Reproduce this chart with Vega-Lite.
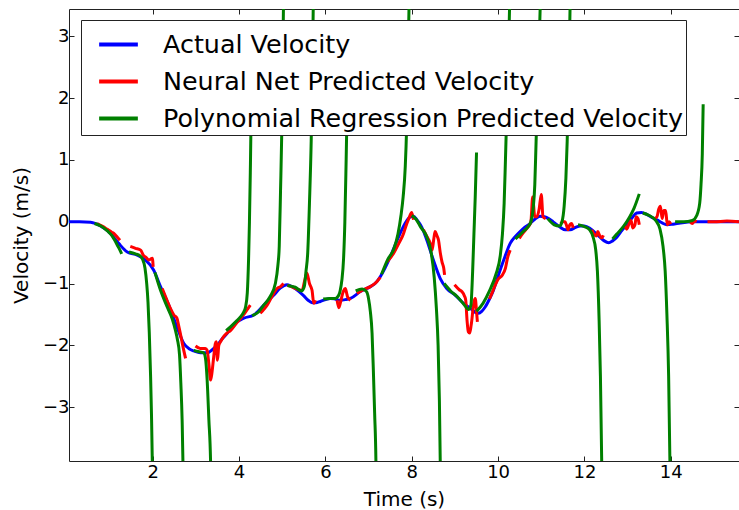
{
  "$schema": "https://vega.github.io/schema/vega-lite/v6.json",
  "width": 670,
  "height": 452,
  "autosize": {"type": "none"},
  "padding": {"left": 69, "top": 9, "right": 0, "bottom": 49},
  "background": "white",
  "config": {
    "view": {"stroke": "#222222", "strokeWidth": 1},
    "font": "DejaVu Sans",
    "axis": {
      "domain": false,
      "grid": false,
      "tickColor": "#222222",
      "tickSize": -5,
      "tickWidth": 1,
      "labelFont": "DejaVu Sans",
      "labelFontSize": 18,
      "labelColor": "black",
      "titleFont": "DejaVu Sans",
      "titleFontSize": 20,
      "titleFontWeight": "normal",
      "titleColor": "black"
    }
  },
  "datasets": {
    "pts": [
      {"s":"Actual Velocity","g":"A","t":0.06,"v":0},{"s":"Actual Velocity","g":"A","t":0.3,"v":0},{"s":"Actual Velocity","g":"A","t":0.56,"v":-0.01},{"s":"Actual Velocity","g":"A","t":0.79,"v":-0.07},{"s":"Actual Velocity","g":"A","t":1.02,"v":-0.19},{"s":"Actual Velocity","g":"A","t":1.21,"v":-0.35},{"s":"Actual Velocity","g":"A","t":1.41,"v":-0.49},{"s":"Actual Velocity","g":"A","t":1.64,"v":-0.54},{"s":"Actual Velocity","g":"A","t":1.83,"v":-0.62},{"s":"Actual Velocity","g":"A","t":2.02,"v":-0.78},{"s":"Actual Velocity","g":"A","t":2.18,"v":-1.05},{"s":"Actual Velocity","g":"A","t":2.37,"v":-1.35},{"s":"Actual Velocity","g":"A","t":2.56,"v":-1.7},{"s":"Actual Velocity","g":"A","t":2.72,"v":-1.97},{"s":"Actual Velocity","g":"A","t":2.85,"v":-2.06},{"s":"Actual Velocity","g":"A","t":2.95,"v":-2.09},{"s":"Actual Velocity","g":"A","t":3.1,"v":-2.12},{"s":"Actual Velocity","g":"A","t":3.26,"v":-2.12},{"s":"Actual Velocity","g":"A","t":3.38,"v":-2.07},{"s":"Actual Velocity","g":"A","t":3.49,"v":-2.0},{"s":"Actual Velocity","g":"A","t":3.6,"v":-1.9},{"s":"Actual Velocity","g":"A","t":3.72,"v":-1.81},{"s":"Actual Velocity","g":"A","t":3.88,"v":-1.66},{"s":"Actual Velocity","g":"A","t":4.03,"v":-1.59},{"s":"Actual Velocity","g":"A","t":4.11,"v":-1.56},{"s":"Actual Velocity","g":"A","t":4.34,"v":-1.51},{"s":"Actual Velocity","g":"A","t":4.45,"v":-1.44},{"s":"Actual Velocity","g":"A","t":4.57,"v":-1.35},{"s":"Actual Velocity","g":"A","t":4.8,"v":-1.19},{"s":"Actual Velocity","g":"A","t":4.96,"v":-1.07},{"s":"Actual Velocity","g":"A","t":5.11,"v":-1.02},{"s":"Actual Velocity","g":"A","t":5.2,"v":-1.04},{"s":"Actual Velocity","g":"A","t":5.3,"v":-1.08},{"s":"Actual Velocity","g":"A","t":5.5,"v":-1.2},{"s":"Actual Velocity","g":"A","t":5.6,"v":-1.27},{"s":"Actual Velocity","g":"A","t":5.69,"v":-1.31},{"s":"Actual Velocity","g":"A","t":5.78,"v":-1.31},{"s":"Actual Velocity","g":"A","t":5.88,"v":-1.29},{"s":"Actual Velocity","g":"A","t":6.11,"v":-1.24},{"s":"Actual Velocity","g":"A","t":6.22,"v":-1.25},{"s":"Actual Velocity","g":"A","t":6.34,"v":-1.27},{"s":"Actual Velocity","g":"A","t":6.46,"v":-1.26},{"s":"Actual Velocity","g":"A","t":6.58,"v":-1.24},{"s":"Actual Velocity","g":"A","t":6.81,"v":-1.13},{"s":"Actual Velocity","g":"A","t":7.04,"v":-1.05},{"s":"Actual Velocity","g":"A","t":7.15,"v":-1.0},{"s":"Actual Velocity","g":"A","t":7.27,"v":-0.89},{"s":"Actual Velocity","g":"A","t":7.38,"v":-0.75},{"s":"Actual Velocity","g":"A","t":7.5,"v":-0.57},{"s":"Actual Velocity","g":"A","t":7.62,"v":-0.37},{"s":"Actual Velocity","g":"A","t":7.73,"v":-0.19},{"s":"Actual Velocity","g":"A","t":7.85,"v":-0.02},{"s":"Actual Velocity","g":"A","t":7.97,"v":0.08},{"s":"Actual Velocity","g":"A","t":8.04,"v":0.09},{"s":"Actual Velocity","g":"A","t":8.12,"v":0.03},{"s":"Actual Velocity","g":"A","t":8.2,"v":-0.05},{"s":"Actual Velocity","g":"A","t":8.27,"v":-0.15},{"s":"Actual Velocity","g":"A","t":8.35,"v":-0.3},{"s":"Actual Velocity","g":"A","t":8.5,"v":-0.62},{"s":"Actual Velocity","g":"A","t":8.66,"v":-0.92},{"s":"Actual Velocity","g":"A","t":8.81,"v":-1.08},{"s":"Actual Velocity","g":"A","t":9.01,"v":-1.19},{"s":"Actual Velocity","g":"A","t":9.2,"v":-1.32},{"s":"Actual Velocity","g":"A","t":9.39,"v":-1.42},{"s":"Actual Velocity","g":"A","t":9.48,"v":-1.47},{"s":"Actual Velocity","g":"A","t":9.55,"v":-1.48},{"s":"Actual Velocity","g":"A","t":9.62,"v":-1.45},{"s":"Actual Velocity","g":"A","t":9.7,"v":-1.38},{"s":"Actual Velocity","g":"A","t":9.8,"v":-1.25},{"s":"Actual Velocity","g":"A","t":9.89,"v":-1.11},{"s":"Actual Velocity","g":"A","t":10.0,"v":-0.88},{"s":"Actual Velocity","g":"A","t":10.13,"v":-0.62},{"s":"Actual Velocity","g":"A","t":10.28,"v":-0.35},{"s":"Actual Velocity","g":"A","t":10.4,"v":-0.24},{"s":"Actual Velocity","g":"A","t":10.51,"v":-0.16},{"s":"Actual Velocity","g":"A","t":10.62,"v":-0.09},{"s":"Actual Velocity","g":"A","t":10.74,"v":-0.03},{"s":"Actual Velocity","g":"A","t":10.85,"v":0.04},{"s":"Actual Velocity","g":"A","t":10.97,"v":0.09},{"s":"Actual Velocity","g":"A","t":11.07,"v":0.08},{"s":"Actual Velocity","g":"A","t":11.17,"v":0.05},{"s":"Actual Velocity","g":"A","t":11.27,"v":0.0},{"s":"Actual Velocity","g":"A","t":11.36,"v":-0.05},{"s":"Actual Velocity","g":"A","t":11.46,"v":-0.1},{"s":"Actual Velocity","g":"A","t":11.55,"v":-0.13},{"s":"Actual Velocity","g":"A","t":11.67,"v":-0.13},{"s":"Actual Velocity","g":"A","t":11.8,"v":-0.09},{"s":"Actual Velocity","g":"A","t":11.9,"v":-0.07},{"s":"Actual Velocity","g":"A","t":12.0,"v":-0.07},{"s":"Actual Velocity","g":"A","t":12.13,"v":-0.11},{"s":"Actual Velocity","g":"A","t":12.25,"v":-0.18},{"s":"Actual Velocity","g":"A","t":12.36,"v":-0.25},{"s":"Actual Velocity","g":"A","t":12.46,"v":-0.31},{"s":"Actual Velocity","g":"A","t":12.56,"v":-0.34},{"s":"Actual Velocity","g":"A","t":12.65,"v":-0.31},{"s":"Actual Velocity","g":"A","t":12.75,"v":-0.25},{"s":"Actual Velocity","g":"A","t":12.87,"v":-0.14},{"s":"Actual Velocity","g":"A","t":12.98,"v":-0.05},{"s":"Actual Velocity","g":"A","t":13.1,"v":0.06},{"s":"Actual Velocity","g":"A","t":13.21,"v":0.14},{"s":"Actual Velocity","g":"A","t":13.32,"v":0.15},{"s":"Actual Velocity","g":"A","t":13.44,"v":0.12},{"s":"Actual Velocity","g":"A","t":13.56,"v":0.07},{"s":"Actual Velocity","g":"A","t":13.68,"v":0.03},{"s":"Actual Velocity","g":"A","t":13.8,"v":-0.02},{"s":"Actual Velocity","g":"A","t":13.91,"v":-0.05},{"s":"Actual Velocity","g":"A","t":14.05,"v":-0.04},{"s":"Actual Velocity","g":"A","t":14.22,"v":-0.02},{"s":"Actual Velocity","g":"A","t":14.52,"v":0.0},{"s":"Actual Velocity","g":"A","t":15.0,"v":0.0},{"s":"Actual Velocity","g":"A","t":15.58,"v":0.0},

      {"s":"Neural Net Predicted Velocity","g":"R1","t":0.71,"v":-0.03},{"s":"Neural Net Predicted Velocity","g":"R1","t":0.85,"v":-0.08},{"s":"Neural Net Predicted Velocity","g":"R1","t":0.94,"v":-0.12},{"s":"Neural Net Predicted Velocity","g":"R1","t":1.05,"v":-0.17},{"s":"Neural Net Predicted Velocity","g":"R1","t":1.1,"v":-0.19},{"s":"Neural Net Predicted Velocity","g":"R1","t":1.18,"v":-0.25},{"s":"Neural Net Predicted Velocity","g":"R1","t":1.24,"v":-0.3},
      {"s":"Neural Net Predicted Velocity","g":"R2","t":1.48,"v":-0.4},{"s":"Neural Net Predicted Velocity","g":"R2","t":1.6,"v":-0.43},{"s":"Neural Net Predicted Velocity","g":"R2","t":1.72,"v":-0.46},{"s":"Neural Net Predicted Velocity","g":"R2","t":1.78,"v":-0.54},{"s":"Neural Net Predicted Velocity","g":"R2","t":1.85,"v":-0.58},{"s":"Neural Net Predicted Velocity","g":"R2","t":1.91,"v":-0.62},{"s":"Neural Net Predicted Velocity","g":"R2","t":1.96,"v":-0.6},{"s":"Neural Net Predicted Velocity","g":"R2","t":1.99,"v":-0.59},{"s":"Neural Net Predicted Velocity","g":"R2","t":2.01,"v":-0.73},
      {"s":"Neural Net Predicted Velocity","g":"R3","t":2.22,"v":-1.08},{"s":"Neural Net Predicted Velocity","g":"R3","t":2.33,"v":-1.27},{"s":"Neural Net Predicted Velocity","g":"R3","t":2.42,"v":-1.42},{"s":"Neural Net Predicted Velocity","g":"R3","t":2.49,"v":-1.51},{"s":"Neural Net Predicted Velocity","g":"R3","t":2.56,"v":-1.56},{"s":"Neural Net Predicted Velocity","g":"R3","t":2.6,"v":-1.68},{"s":"Neural Net Predicted Velocity","g":"R3","t":2.64,"v":-1.81},{"s":"Neural Net Predicted Velocity","g":"R3","t":2.7,"v":-2.02},{"s":"Neural Net Predicted Velocity","g":"R3","t":2.76,"v":-2.21},
      {"s":"Neural Net Predicted Velocity","g":"R4","t":2.99,"v":-2.01},{"s":"Neural Net Predicted Velocity","g":"R4","t":3.1,"v":-2.05},{"s":"Neural Net Predicted Velocity","g":"R4","t":3.22,"v":-2.05},{"s":"Neural Net Predicted Velocity","g":"R4","t":3.26,"v":-2.08},{"s":"Neural Net Predicted Velocity","g":"R4","t":3.3,"v":-2.3},{"s":"Neural Net Predicted Velocity","g":"R4","t":3.34,"v":-2.56},{"s":"Neural Net Predicted Velocity","g":"R4","t":3.37,"v":-2.45},{"s":"Neural Net Predicted Velocity","g":"R4","t":3.41,"v":-2.2},{"s":"Neural Net Predicted Velocity","g":"R4","t":3.45,"v":-1.97},{"s":"Neural Net Predicted Velocity","g":"R4","t":3.47,"v":-1.94},{"s":"Neural Net Predicted Velocity","g":"R4","t":3.5,"v":-2.24},{"s":"Neural Net Predicted Velocity","g":"R4","t":3.53,"v":-2.0},{"s":"Neural Net Predicted Velocity","g":"R4","t":3.58,"v":-1.93},{"s":"Neural Net Predicted Velocity","g":"R4","t":3.65,"v":-1.85},{"s":"Neural Net Predicted Velocity","g":"R4","t":3.72,"v":-1.8},{"s":"Neural Net Predicted Velocity","g":"R4","t":3.8,"v":-1.76},{"s":"Neural Net Predicted Velocity","g":"R4","t":3.95,"v":-1.63},{"s":"Neural Net Predicted Velocity","g":"R4","t":4.11,"v":-1.5},{"s":"Neural Net Predicted Velocity","g":"R4","t":4.19,"v":-1.42},{"s":"Neural Net Predicted Velocity","g":"R4","t":4.26,"v":-1.35},
      {"s":"Neural Net Predicted Velocity","g":"R5","t":4.49,"v":-1.48},{"s":"Neural Net Predicted Velocity","g":"R5","t":4.57,"v":-1.42},{"s":"Neural Net Predicted Velocity","g":"R5","t":4.65,"v":-1.35},{"s":"Neural Net Predicted Velocity","g":"R5","t":4.76,"v":-1.21},{"s":"Neural Net Predicted Velocity","g":"R5","t":4.88,"v":-1.08},{"s":"Neural Net Predicted Velocity","g":"R5","t":4.96,"v":-1.05},{"s":"Neural Net Predicted Velocity","g":"R5","t":5.03,"v":-1.0},
      {"s":"Neural Net Predicted Velocity","g":"R6","t":5.12,"v":-1.03},{"s":"Neural Net Predicted Velocity","g":"R6","t":5.25,"v":-1.06},{"s":"Neural Net Predicted Velocity","g":"R6","t":5.38,"v":-1.1},{"s":"Neural Net Predicted Velocity","g":"R6","t":5.46,"v":-1.11},{"s":"Neural Net Predicted Velocity","g":"R6","t":5.52,"v":-0.95},{"s":"Neural Net Predicted Velocity","g":"R6","t":5.57,"v":-0.83},{"s":"Neural Net Predicted Velocity","g":"R6","t":5.63,"v":-1.0},{"s":"Neural Net Predicted Velocity","g":"R6","t":5.69,"v":-1.11},{"s":"Neural Net Predicted Velocity","g":"R6","t":5.73,"v":-1.32},{"s":"Neural Net Predicted Velocity","g":"R6","t":5.77,"v":-1.27},
      {"s":"Neural Net Predicted Velocity","g":"R7","t":6.27,"v":-1.27},{"s":"Neural Net Predicted Velocity","g":"R7","t":6.31,"v":-1.39},{"s":"Neural Net Predicted Velocity","g":"R7","t":6.35,"v":-1.3},{"s":"Neural Net Predicted Velocity","g":"R7","t":6.38,"v":-1.21},{"s":"Neural Net Predicted Velocity","g":"R7","t":6.42,"v":-1.12},{"s":"Neural Net Predicted Velocity","g":"R7","t":6.46,"v":-1.08},{"s":"Neural Net Predicted Velocity","g":"R7","t":6.49,"v":-1.15},{"s":"Neural Net Predicted Velocity","g":"R7","t":6.51,"v":-1.21},{"s":"Neural Net Predicted Velocity","g":"R7","t":6.55,"v":-1.25},{"s":"Neural Net Predicted Velocity","g":"R7","t":6.58,"v":-1.27},
      {"s":"Neural Net Predicted Velocity","g":"R8","t":6.73,"v":-1.16},{"s":"Neural Net Predicted Velocity","g":"R8","t":6.88,"v":-1.1},{"s":"Neural Net Predicted Velocity","g":"R8","t":7.04,"v":-1.05},{"s":"Neural Net Predicted Velocity","g":"R8","t":7.19,"v":-0.97},{"s":"Neural Net Predicted Velocity","g":"R8","t":7.27,"v":-0.9},
      {"s":"Neural Net Predicted Velocity","g":"R9","t":7.43,"v":-0.65},{"s":"Neural Net Predicted Velocity","g":"R9","t":7.58,"v":-0.51},{"s":"Neural Net Predicted Velocity","g":"R9","t":7.7,"v":-0.35},{"s":"Neural Net Predicted Velocity","g":"R9","t":7.81,"v":-0.19},{"s":"Neural Net Predicted Velocity","g":"R9","t":7.86,"v":-0.08},{"s":"Neural Net Predicted Velocity","g":"R9","t":7.93,"v":0.05},{"s":"Neural Net Predicted Velocity","g":"R9","t":8.0,"v":0.15},{"s":"Neural Net Predicted Velocity","g":"R9","t":8.04,"v":0.03},
      {"s":"Neural Net Predicted Velocity","g":"R10","t":8.27,"v":-0.13},{"s":"Neural Net Predicted Velocity","g":"R10","t":8.35,"v":-0.24},{"s":"Neural Net Predicted Velocity","g":"R10","t":8.43,"v":-0.35},{"s":"Neural Net Predicted Velocity","g":"R10","t":8.47,"v":-0.46},{"s":"Neural Net Predicted Velocity","g":"R10","t":8.51,"v":-0.28},{"s":"Neural Net Predicted Velocity","g":"R10","t":8.54,"v":-0.16},{"s":"Neural Net Predicted Velocity","g":"R10","t":8.58,"v":-0.22},{"s":"Neural Net Predicted Velocity","g":"R10","t":8.62,"v":-0.3},{"s":"Neural Net Predicted Velocity","g":"R10","t":8.66,"v":-0.5},{"s":"Neural Net Predicted Velocity","g":"R10","t":8.7,"v":-0.65},{"s":"Neural Net Predicted Velocity","g":"R10","t":8.74,"v":-0.75},{"s":"Neural Net Predicted Velocity","g":"R10","t":8.76,"v":-0.86},
      {"s":"Neural Net Predicted Velocity","g":"R11","t":8.99,"v":-1.02},{"s":"Neural Net Predicted Velocity","g":"R11","t":9.1,"v":-1.1},{"s":"Neural Net Predicted Velocity","g":"R11","t":9.16,"v":-1.13},{"s":"Neural Net Predicted Velocity","g":"R11","t":9.22,"v":-1.2},{"s":"Neural Net Predicted Velocity","g":"R11","t":9.25,"v":-1.27},{"s":"Neural Net Predicted Velocity","g":"R11","t":9.28,"v":-1.59},{"s":"Neural Net Predicted Velocity","g":"R11","t":9.31,"v":-1.78},{"s":"Neural Net Predicted Velocity","g":"R11","t":9.34,"v":-1.8},{"s":"Neural Net Predicted Velocity","g":"R11","t":9.37,"v":-1.7},{"s":"Neural Net Predicted Velocity","g":"R11","t":9.39,"v":-1.6},{"s":"Neural Net Predicted Velocity","g":"R11","t":9.42,"v":-1.4},{"s":"Neural Net Predicted Velocity","g":"R11","t":9.44,"v":-1.3},{"s":"Neural Net Predicted Velocity","g":"R11","t":9.47,"v":-1.24},{"s":"Neural Net Predicted Velocity","g":"R11","t":9.5,"v":-1.45},{"s":"Neural Net Predicted Velocity","g":"R11","t":9.52,"v":-1.62},
      {"s":"Neural Net Predicted Velocity","g":"R12","t":9.8,"v":-1.25},{"s":"Neural Net Predicted Velocity","g":"R12","t":9.86,"v":-1.15},{"s":"Neural Net Predicted Velocity","g":"R12","t":9.93,"v":-1.03},{"s":"Neural Net Predicted Velocity","g":"R12","t":10.0,"v":-0.93},{"s":"Neural Net Predicted Velocity","g":"R12","t":10.1,"v":-0.86},{"s":"Neural Net Predicted Velocity","g":"R12","t":10.17,"v":-0.75},{"s":"Neural Net Predicted Velocity","g":"R12","t":10.22,"v":-0.58},{"s":"Neural Net Predicted Velocity","g":"R12","t":10.28,"v":-0.46},
      {"s":"Neural Net Predicted Velocity","g":"R13","t":10.49,"v":-0.27},{"s":"Neural Net Predicted Velocity","g":"R13","t":10.58,"v":-0.18},{"s":"Neural Net Predicted Velocity","g":"R13","t":10.64,"v":-0.13},{"s":"Neural Net Predicted Velocity","g":"R13","t":10.7,"v":-0.08},{"s":"Neural Net Predicted Velocity","g":"R13","t":10.76,"v":0.0},{"s":"Neural Net Predicted Velocity","g":"R13","t":10.8,"v":0.4},{"s":"Neural Net Predicted Velocity","g":"R13","t":10.85,"v":0.08},{"s":"Neural Net Predicted Velocity","g":"R13","t":10.9,"v":0.08},{"s":"Neural Net Predicted Velocity","g":"R13","t":10.95,"v":0.2},{"s":"Neural Net Predicted Velocity","g":"R13","t":11.0,"v":0.44},{"s":"Neural Net Predicted Velocity","g":"R13","t":11.04,"v":0.08},{"s":"Neural Net Predicted Velocity","g":"R13","t":11.1,"v":0.05},
      {"s":"Neural Net Predicted Velocity","g":"R14","t":11.45,"v":-0.03},{"s":"Neural Net Predicted Velocity","g":"R14","t":11.5,"v":0.0},{"s":"Neural Net Predicted Velocity","g":"R14","t":11.55,"v":0.0},{"s":"Neural Net Predicted Velocity","g":"R14","t":11.58,"v":-0.05},{"s":"Neural Net Predicted Velocity","g":"R14","t":11.62,"v":-0.13},{"s":"Neural Net Predicted Velocity","g":"R14","t":11.66,"v":-0.05},{"s":"Neural Net Predicted Velocity","g":"R14","t":11.7,"v":-0.03},{"s":"Neural Net Predicted Velocity","g":"R14","t":11.74,"v":-0.1},
      {"s":"Neural Net Predicted Velocity","g":"R15","t":12.17,"v":-0.13},{"s":"Neural Net Predicted Velocity","g":"R15","t":12.22,"v":-0.2},{"s":"Neural Net Predicted Velocity","g":"R15","t":12.27,"v":-0.23},{"s":"Neural Net Predicted Velocity","g":"R15","t":12.31,"v":-0.16},{"s":"Neural Net Predicted Velocity","g":"R15","t":12.35,"v":-0.22},{"s":"Neural Net Predicted Velocity","g":"R15","t":12.4,"v":-0.26},{"s":"Neural Net Predicted Velocity","g":"R15","t":12.44,"v":-0.22},
      {"s":"Neural Net Predicted Velocity","g":"R16","t":12.93,"v":-0.05},{"s":"Neural Net Predicted Velocity","g":"R16","t":12.98,"v":-0.12},{"s":"Neural Net Predicted Velocity","g":"R16","t":13.03,"v":-0.04},{"s":"Neural Net Predicted Velocity","g":"R16","t":13.08,"v":0.02},{"s":"Neural Net Predicted Velocity","g":"R16","t":13.12,"v":-0.1},{"s":"Neural Net Predicted Velocity","g":"R16","t":13.17,"v":-0.05},{"s":"Neural Net Predicted Velocity","g":"R16","t":13.2,"v":0.08},{"s":"Neural Net Predicted Velocity","g":"R16","t":13.24,"v":0.05},{"s":"Neural Net Predicted Velocity","g":"R16","t":13.27,"v":-0.05},
      {"s":"Neural Net Predicted Velocity","g":"R17","t":13.62,"v":0.05},{"s":"Neural Net Predicted Velocity","g":"R17","t":13.68,"v":0.08},{"s":"Neural Net Predicted Velocity","g":"R17","t":13.72,"v":0.2},{"s":"Neural Net Predicted Velocity","g":"R17","t":13.76,"v":0.25},{"s":"Neural Net Predicted Velocity","g":"R17","t":13.8,"v":0.05},{"s":"Neural Net Predicted Velocity","g":"R17","t":13.84,"v":0.18},{"s":"Neural Net Predicted Velocity","g":"R17","t":13.88,"v":0.18},{"s":"Neural Net Predicted Velocity","g":"R17","t":13.92,"v":-0.05},{"s":"Neural Net Predicted Velocity","g":"R17","t":13.96,"v":0.0},{"s":"Neural Net Predicted Velocity","g":"R17","t":14.0,"v":-0.04},
      {"s":"Neural Net Predicted Velocity","g":"R18","t":14.45,"v":0.0},{"s":"Neural Net Predicted Velocity","g":"R18","t":14.5,"v":-0.03},{"s":"Neural Net Predicted Velocity","g":"R18","t":14.55,"v":0.01},{"s":"Neural Net Predicted Velocity","g":"R18","t":14.6,"v":0.0},
      {"s":"Neural Net Predicted Velocity","g":"R19","t":14.85,"v":0.0},{"s":"Neural Net Predicted Velocity","g":"R19","t":15.0,"v":0.0},{"s":"Neural Net Predicted Velocity","g":"R19","t":15.3,"v":0.01},{"s":"Neural Net Predicted Velocity","g":"R19","t":15.58,"v":0.0},

      {"s":"Polynomial Regression Predicted Velocity","g":"G1","t":0.65,"v":-0.03},{"s":"Polynomial Regression Predicted Velocity","g":"G1","t":0.8,"v":-0.07},{"s":"Polynomial Regression Predicted Velocity","g":"G1","t":0.95,"v":-0.15},{"s":"Polynomial Regression Predicted Velocity","g":"G1","t":1.05,"v":-0.22},{"s":"Polynomial Regression Predicted Velocity","g":"G1","t":1.12,"v":-0.3},{"s":"Polynomial Regression Predicted Velocity","g":"G1","t":1.18,"v":-0.38},{"s":"Polynomial Regression Predicted Velocity","g":"G1","t":1.24,"v":-0.46},{"s":"Polynomial Regression Predicted Velocity","g":"G1","t":1.28,"v":-0.52},
      {"s":"Polynomial Regression Predicted Velocity","g":"G2","t":1.45,"v":-0.49},{"s":"Polynomial Regression Predicted Velocity","g":"G2","t":1.6,"v":-0.52},{"s":"Polynomial Regression Predicted Velocity","g":"G2","t":1.7,"v":-0.55},{"s":"Polynomial Regression Predicted Velocity","g":"G2","t":1.76,"v":-0.6},{"s":"Polynomial Regression Predicted Velocity","g":"G2","t":1.82,"v":-0.75},{"s":"Polynomial Regression Predicted Velocity","g":"G2","t":1.86,"v":-1.0},{"s":"Polynomial Regression Predicted Velocity","g":"G2","t":1.89,"v":-1.3},{"s":"Polynomial Regression Predicted Velocity","g":"G2","t":1.92,"v":-1.8},{"s":"Polynomial Regression Predicted Velocity","g":"G2","t":1.95,"v":-2.5},{"s":"Polynomial Regression Predicted Velocity","g":"G2","t":1.97,"v":-3.1},{"s":"Polynomial Regression Predicted Velocity","g":"G2","t":1.99,"v":-3.9},{"s":"Polynomial Regression Predicted Velocity","g":"G2","t":2.0,"v":-4.5},
      {"s":"Polynomial Regression Predicted Velocity","g":"G3","t":2.05,"v":-0.82},{"s":"Polynomial Regression Predicted Velocity","g":"G3","t":2.18,"v":-1.11},{"s":"Polynomial Regression Predicted Velocity","g":"G3","t":2.33,"v":-1.37},{"s":"Polynomial Regression Predicted Velocity","g":"G3","t":2.45,"v":-1.57},{"s":"Polynomial Regression Predicted Velocity","g":"G3","t":2.52,"v":-1.74},{"s":"Polynomial Regression Predicted Velocity","g":"G3","t":2.57,"v":-1.9},{"s":"Polynomial Regression Predicted Velocity","g":"G3","t":2.62,"v":-2.15},{"s":"Polynomial Regression Predicted Velocity","g":"G3","t":2.65,"v":-2.6},{"s":"Polynomial Regression Predicted Velocity","g":"G3","t":2.68,"v":-3.2},{"s":"Polynomial Regression Predicted Velocity","g":"G3","t":2.7,"v":-3.9},{"s":"Polynomial Regression Predicted Velocity","g":"G3","t":2.71,"v":-4.5},
      {"s":"Polynomial Regression Predicted Velocity","g":"G4","t":2.95,"v":-2.08},{"s":"Polynomial Regression Predicted Velocity","g":"G4","t":3.05,"v":-2.1},{"s":"Polynomial Regression Predicted Velocity","g":"G4","t":3.18,"v":-2.12},{"s":"Polynomial Regression Predicted Velocity","g":"G4","t":3.22,"v":-2.2},{"s":"Polynomial Regression Predicted Velocity","g":"G4","t":3.26,"v":-2.56},{"s":"Polynomial Regression Predicted Velocity","g":"G4","t":3.3,"v":-3.2},{"s":"Polynomial Regression Predicted Velocity","g":"G4","t":3.34,"v":-3.9},{"s":"Polynomial Regression Predicted Velocity","g":"G4","t":3.35,"v":-4.5},
      {"s":"Polynomial Regression Predicted Velocity","g":"G5","t":3.7,"v":-1.76},{"s":"Polynomial Regression Predicted Velocity","g":"G5","t":3.8,"v":-1.7},{"s":"Polynomial Regression Predicted Velocity","g":"G5","t":3.95,"v":-1.6},{"s":"Polynomial Regression Predicted Velocity","g":"G5","t":4.03,"v":-1.54},{"s":"Polynomial Regression Predicted Velocity","g":"G5","t":4.1,"v":-1.47},{"s":"Polynomial Regression Predicted Velocity","g":"G5","t":4.15,"v":-1.38},{"s":"Polynomial Regression Predicted Velocity","g":"G5","t":4.19,"v":-1.15},{"s":"Polynomial Regression Predicted Velocity","g":"G5","t":4.22,"v":-0.6},{"s":"Polynomial Regression Predicted Velocity","g":"G5","t":4.24,"v":0.0},{"s":"Polynomial Regression Predicted Velocity","g":"G5","t":4.26,"v":0.8},{"s":"Polynomial Regression Predicted Velocity","g":"G5","t":4.28,"v":1.8},{"s":"Polynomial Regression Predicted Velocity","g":"G5","t":4.29,"v":2.5},
      {"s":"Polynomial Regression Predicted Velocity","g":"G6","t":4.3,"v":-1.52},{"s":"Polynomial Regression Predicted Velocity","g":"G6","t":4.45,"v":-1.46},{"s":"Polynomial Regression Predicted Velocity","g":"G6","t":4.57,"v":-1.35},{"s":"Polynomial Regression Predicted Velocity","g":"G6","t":4.72,"v":-1.21},{"s":"Polynomial Regression Predicted Velocity","g":"G6","t":4.84,"v":-1.0},{"s":"Polynomial Regression Predicted Velocity","g":"G6","t":4.9,"v":-0.7},{"s":"Polynomial Regression Predicted Velocity","g":"G6","t":4.93,"v":-0.4},{"s":"Polynomial Regression Predicted Velocity","g":"G6","t":4.96,"v":0.5},{"s":"Polynomial Regression Predicted Velocity","g":"G6","t":4.99,"v":1.5},{"s":"Polynomial Regression Predicted Velocity","g":"G6","t":5.01,"v":2.5},{"s":"Polynomial Regression Predicted Velocity","g":"G6","t":5.03,"v":3.6},
      {"s":"Polynomial Regression Predicted Velocity","g":"G7","t":5.12,"v":-1.03},{"s":"Polynomial Regression Predicted Velocity","g":"G7","t":5.3,"v":-1.06},{"s":"Polynomial Regression Predicted Velocity","g":"G7","t":5.45,"v":-1.12},{"s":"Polynomial Regression Predicted Velocity","g":"G7","t":5.51,"v":-1.05},{"s":"Polynomial Regression Predicted Velocity","g":"G7","t":5.55,"v":-0.8},{"s":"Polynomial Regression Predicted Velocity","g":"G7","t":5.59,"v":-0.5},{"s":"Polynomial Regression Predicted Velocity","g":"G7","t":5.63,"v":0.3},{"s":"Polynomial Regression Predicted Velocity","g":"G7","t":5.67,"v":1.3},{"s":"Polynomial Regression Predicted Velocity","g":"G7","t":5.7,"v":2.5},{"s":"Polynomial Regression Predicted Velocity","g":"G7","t":5.72,"v":3.6},
      {"s":"Polynomial Regression Predicted Velocity","g":"G8","t":5.95,"v":-1.25},{"s":"Polynomial Regression Predicted Velocity","g":"G8","t":6.1,"v":-1.24},{"s":"Polynomial Regression Predicted Velocity","g":"G8","t":6.23,"v":-1.24},{"s":"Polynomial Regression Predicted Velocity","g":"G8","t":6.3,"v":-1.2},{"s":"Polynomial Regression Predicted Velocity","g":"G8","t":6.34,"v":-1.12},{"s":"Polynomial Regression Predicted Velocity","g":"G8","t":6.38,"v":-0.95},{"s":"Polynomial Regression Predicted Velocity","g":"G8","t":6.42,"v":-0.6},{"s":"Polynomial Regression Predicted Velocity","g":"G8","t":6.45,"v":0.0},{"s":"Polynomial Regression Predicted Velocity","g":"G8","t":6.48,"v":1.0},{"s":"Polynomial Regression Predicted Velocity","g":"G8","t":6.52,"v":2.5},
      {"s":"Polynomial Regression Predicted Velocity","g":"G9","t":6.7,"v":-1.12},{"s":"Polynomial Regression Predicted Velocity","g":"G9","t":6.85,"v":-1.09},{"s":"Polynomial Regression Predicted Velocity","g":"G9","t":6.95,"v":-1.13},{"s":"Polynomial Regression Predicted Velocity","g":"G9","t":7.0,"v":-1.25},{"s":"Polynomial Regression Predicted Velocity","g":"G9","t":7.04,"v":-1.45},{"s":"Polynomial Regression Predicted Velocity","g":"G9","t":7.08,"v":-1.8},{"s":"Polynomial Regression Predicted Velocity","g":"G9","t":7.11,"v":-2.4},{"s":"Polynomial Regression Predicted Velocity","g":"G9","t":7.14,"v":-3.1},{"s":"Polynomial Regression Predicted Velocity","g":"G9","t":7.17,"v":-3.9},{"s":"Polynomial Regression Predicted Velocity","g":"G9","t":7.18,"v":-4.5},
      {"s":"Polynomial Regression Predicted Velocity","g":"G10","t":7.3,"v":-0.85},{"s":"Polynomial Regression Predicted Velocity","g":"G10","t":7.45,"v":-0.6},{"s":"Polynomial Regression Predicted Velocity","g":"G10","t":7.58,"v":-0.45},{"s":"Polynomial Regression Predicted Velocity","g":"G10","t":7.68,"v":-0.2},{"s":"Polynomial Regression Predicted Velocity","g":"G10","t":7.75,"v":0.1},{"s":"Polynomial Regression Predicted Velocity","g":"G10","t":7.8,"v":0.4},{"s":"Polynomial Regression Predicted Velocity","g":"G10","t":7.85,"v":0.9},{"s":"Polynomial Regression Predicted Velocity","g":"G10","t":7.88,"v":1.5},{"s":"Polynomial Regression Predicted Velocity","g":"G10","t":7.91,"v":2.5},{"s":"Polynomial Regression Predicted Velocity","g":"G10","t":7.94,"v":3.6},
      {"s":"Polynomial Regression Predicted Velocity","g":"G11","t":8.0,"v":0.1},{"s":"Polynomial Regression Predicted Velocity","g":"G11","t":8.1,"v":0.04},{"s":"Polynomial Regression Predicted Velocity","g":"G11","t":8.2,"v":-0.08},{"s":"Polynomial Regression Predicted Velocity","g":"G11","t":8.35,"v":-0.25},{"s":"Polynomial Regression Predicted Velocity","g":"G11","t":8.45,"v":-0.5},{"s":"Polynomial Regression Predicted Velocity","g":"G11","t":8.52,"v":-0.9},{"s":"Polynomial Regression Predicted Velocity","g":"G11","t":8.57,"v":-1.4},{"s":"Polynomial Regression Predicted Velocity","g":"G11","t":8.61,"v":-2.0},{"s":"Polynomial Regression Predicted Velocity","g":"G11","t":8.64,"v":-2.9},{"s":"Polynomial Regression Predicted Velocity","g":"G11","t":8.66,"v":-3.9},{"s":"Polynomial Regression Predicted Velocity","g":"G11","t":8.67,"v":-4.5},
      {"s":"Polynomial Regression Predicted Velocity","g":"G12","t":8.75,"v":-1.0},{"s":"Polynomial Regression Predicted Velocity","g":"G12","t":8.9,"v":-1.12},{"s":"Polynomial Regression Predicted Velocity","g":"G12","t":9.05,"v":-1.21},{"s":"Polynomial Regression Predicted Velocity","g":"G12","t":9.2,"v":-1.33},{"s":"Polynomial Regression Predicted Velocity","g":"G12","t":9.32,"v":-1.42},{"s":"Polynomial Regression Predicted Velocity","g":"G12","t":9.37,"v":-1.35},{"s":"Polynomial Regression Predicted Velocity","g":"G12","t":9.41,"v":-0.8},{"s":"Polynomial Regression Predicted Velocity","g":"G12","t":9.44,"v":-0.2},{"s":"Polynomial Regression Predicted Velocity","g":"G12","t":9.47,"v":0.4},{"s":"Polynomial Regression Predicted Velocity","g":"G12","t":9.5,"v":1.12},
      {"s":"Polynomial Regression Predicted Velocity","g":"G13","t":9.5,"v":-1.45},{"s":"Polynomial Regression Predicted Velocity","g":"G13","t":9.65,"v":-1.32},{"s":"Polynomial Regression Predicted Velocity","g":"G13","t":9.8,"v":-1.12},{"s":"Polynomial Regression Predicted Velocity","g":"G13","t":9.95,"v":-0.85},{"s":"Polynomial Regression Predicted Velocity","g":"G13","t":10.05,"v":-0.55},{"s":"Polynomial Regression Predicted Velocity","g":"G13","t":10.1,"v":-0.2},{"s":"Polynomial Regression Predicted Velocity","g":"G13","t":10.14,"v":0.3},{"s":"Polynomial Regression Predicted Velocity","g":"G13","t":10.17,"v":1.0},{"s":"Polynomial Regression Predicted Velocity","g":"G13","t":10.21,"v":2.0},{"s":"Polynomial Regression Predicted Velocity","g":"G13","t":10.25,"v":3.0},{"s":"Polynomial Regression Predicted Velocity","g":"G13","t":10.27,"v":3.6},
      {"s":"Polynomial Regression Predicted Velocity","g":"G14","t":10.4,"v":-0.28},{"s":"Polynomial Regression Predicted Velocity","g":"G14","t":10.55,"v":-0.18},{"s":"Polynomial Regression Predicted Velocity","g":"G14","t":10.68,"v":-0.09},{"s":"Polynomial Regression Predicted Velocity","g":"G14","t":10.76,"v":0.0},{"s":"Polynomial Regression Predicted Velocity","g":"G14","t":10.81,"v":0.2},{"s":"Polynomial Regression Predicted Velocity","g":"G14","t":10.85,"v":0.6},{"s":"Polynomial Regression Predicted Velocity","g":"G14","t":10.88,"v":1.3},{"s":"Polynomial Regression Predicted Velocity","g":"G14","t":10.92,"v":2.2},{"s":"Polynomial Regression Predicted Velocity","g":"G14","t":10.96,"v":3.1},{"s":"Polynomial Regression Predicted Velocity","g":"G14","t":10.98,"v":3.6},
      {"s":"Polynomial Regression Predicted Velocity","g":"G15","t":11.15,"v":0.05},{"s":"Polynomial Regression Predicted Velocity","g":"G15","t":11.3,"v":-0.05},{"s":"Polynomial Regression Predicted Velocity","g":"G15","t":11.42,"v":-0.07},{"s":"Polynomial Regression Predicted Velocity","g":"G15","t":11.48,"v":0.0},{"s":"Polynomial Regression Predicted Velocity","g":"G15","t":11.53,"v":0.25},{"s":"Polynomial Regression Predicted Velocity","g":"G15","t":11.57,"v":0.7},{"s":"Polynomial Regression Predicted Velocity","g":"G15","t":11.6,"v":1.3},{"s":"Polynomial Regression Predicted Velocity","g":"G15","t":11.63,"v":2.2},{"s":"Polynomial Regression Predicted Velocity","g":"G15","t":11.66,"v":3.2},{"s":"Polynomial Regression Predicted Velocity","g":"G15","t":11.67,"v":3.6},
      {"s":"Polynomial Regression Predicted Velocity","g":"G16","t":11.85,"v":-0.05},{"s":"Polynomial Regression Predicted Velocity","g":"G16","t":12.0,"v":-0.08},{"s":"Polynomial Regression Predicted Velocity","g":"G16","t":12.12,"v":-0.13},{"s":"Polynomial Regression Predicted Velocity","g":"G16","t":12.2,"v":-0.25},{"s":"Polynomial Regression Predicted Velocity","g":"G16","t":12.26,"v":-0.45},{"s":"Polynomial Regression Predicted Velocity","g":"G16","t":12.3,"v":-0.8},{"s":"Polynomial Regression Predicted Velocity","g":"G16","t":12.34,"v":-1.6},{"s":"Polynomial Regression Predicted Velocity","g":"G16","t":12.37,"v":-2.5},{"s":"Polynomial Regression Predicted Velocity","g":"G16","t":12.4,"v":-3.9},{"s":"Polynomial Regression Predicted Velocity","g":"G16","t":12.41,"v":-4.5},
      {"s":"Polynomial Regression Predicted Velocity","g":"G17","t":12.65,"v":-0.28},{"s":"Polynomial Regression Predicted Velocity","g":"G17","t":12.75,"v":-0.2},{"s":"Polynomial Regression Predicted Velocity","g":"G17","t":12.9,"v":-0.08},{"s":"Polynomial Regression Predicted Velocity","g":"G17","t":13.05,"v":0.08},{"s":"Polynomial Regression Predicted Velocity","g":"G17","t":13.15,"v":0.22},{"s":"Polynomial Regression Predicted Velocity","g":"G17","t":13.27,"v":0.45},
      {"s":"Polynomial Regression Predicted Velocity","g":"G18","t":13.35,"v":0.14},{"s":"Polynomial Regression Predicted Velocity","g":"G18","t":13.5,"v":0.1},{"s":"Polynomial Regression Predicted Velocity","g":"G18","t":13.65,"v":0.02},{"s":"Polynomial Regression Predicted Velocity","g":"G18","t":13.75,"v":-0.12},{"s":"Polynomial Regression Predicted Velocity","g":"G18","t":13.82,"v":-0.4},{"s":"Polynomial Regression Predicted Velocity","g":"G18","t":13.87,"v":-0.8},{"s":"Polynomial Regression Predicted Velocity","g":"G18","t":13.91,"v":-1.5},{"s":"Polynomial Regression Predicted Velocity","g":"G18","t":13.95,"v":-2.5},{"s":"Polynomial Regression Predicted Velocity","g":"G18","t":13.98,"v":-3.9},{"s":"Polynomial Regression Predicted Velocity","g":"G18","t":13.99,"v":-4.5},
      {"s":"Polynomial Regression Predicted Velocity","g":"G19","t":14.1,"v":0.0},{"s":"Polynomial Regression Predicted Velocity","g":"G19","t":14.3,"v":0.0},{"s":"Polynomial Regression Predicted Velocity","g":"G19","t":14.5,"v":0.02},{"s":"Polynomial Regression Predicted Velocity","g":"G19","t":14.6,"v":0.1},{"s":"Polynomial Regression Predicted Velocity","g":"G19","t":14.67,"v":0.3},{"s":"Polynomial Regression Predicted Velocity","g":"G19","t":14.7,"v":0.6},{"s":"Polynomial Regression Predicted Velocity","g":"G19","t":14.73,"v":1.1},{"s":"Polynomial Regression Predicted Velocity","g":"G19","t":14.75,"v":1.9}
    ]
  },
  "data": {"name": "pts"},
  "encoding": {
    "x": {"field": "t", "type": "quantitative", "scale": {"domain": [0.06, 15.58], "nice": false, "zero": false}},
    "y": {"field": "v", "type": "quantitative", "scale": {"domain": [-3.87, 3.44], "nice": false, "zero": false}},
    "color": {
      "field": "s", "type": "nominal",
      "scale": {
        "domain": ["Actual Velocity", "Neural Net Predicted Velocity", "Polynomial Regression Predicted Velocity"],
        "range": ["#0000ff", "#ff0000", "#008000"]
      },
      "legend": {
        "orient": "none", "legendX": 12, "legendY": 11, "title": null,
        "symbolType": "stroke", "symbolSize": 1500, "symbolStrokeWidth": 4, "symbolOffset": 13,
        "labelFont": "DejaVu Sans", "labelFontSize": 25.4, "labelColor": "black", "labelLimit": 1000,
        "labelExpr": "datum.label + '\u2002'",
        "labelOffset": 23, "rowPadding": 2, "padding": 3,
        "strokeColor": "#222222", "fillColor": "white"
      }
    },
    "detail": {"field": "g", "type": "nominal"},
    "order": {"field": "t", "type": "quantitative"}
  },
  "layer": [
    {
      "transform": [{"filter": "datum.s == 'Actual Velocity'"}],
      "mark": {"type": "line", "strokeWidth": 3, "clip": true, "interpolate": "monotone"},
      "encoding": {
        "x": {"field": "t", "type": "quantitative", "axis": {"orient": "bottom", "values": [2, 4, 6, 8, 10, 12, 14], "title": "Time (s)", "labelPadding": 7, "titlePadding": 8}},
        "y": {"field": "v", "type": "quantitative", "axis": {"orient": "left", "values": [-3, -2, -1, 0, 1, 2, 3], "title": "Velocity (m/s)", "labelPadding": 5, "titlePadding": 11}}
      }
    },
    {
      "transform": [{"filter": "datum.s == 'Neural Net Predicted Velocity'"}],
      "mark": {"type": "line", "strokeWidth": 3, "clip": true, "interpolate": "monotone"},
      "encoding": {
        "x": {"field": "t", "type": "quantitative", "axis": {"orient": "top", "values": [2, 4, 6, 8, 10, 12, 14], "labels": false, "title": null}},
        "y": {"field": "v", "type": "quantitative", "axis": {"orient": "right", "values": [-3, -2, -1, 0, 1, 2, 3], "labels": false, "title": null}}
      }
    },
    {
      "transform": [{"filter": "datum.s == 'Polynomial Regression Predicted Velocity'"}],
      "mark": {"type": "line", "strokeWidth": 3, "clip": true, "interpolate": "monotone"},
      "encoding": {
        "x": {"field": "t", "type": "quantitative", "axis": null},
        "y": {"field": "v", "type": "quantitative", "axis": null}
      }
    }
  ],
  "resolve": {"axis": {"x": "independent", "y": "independent"}}
}
